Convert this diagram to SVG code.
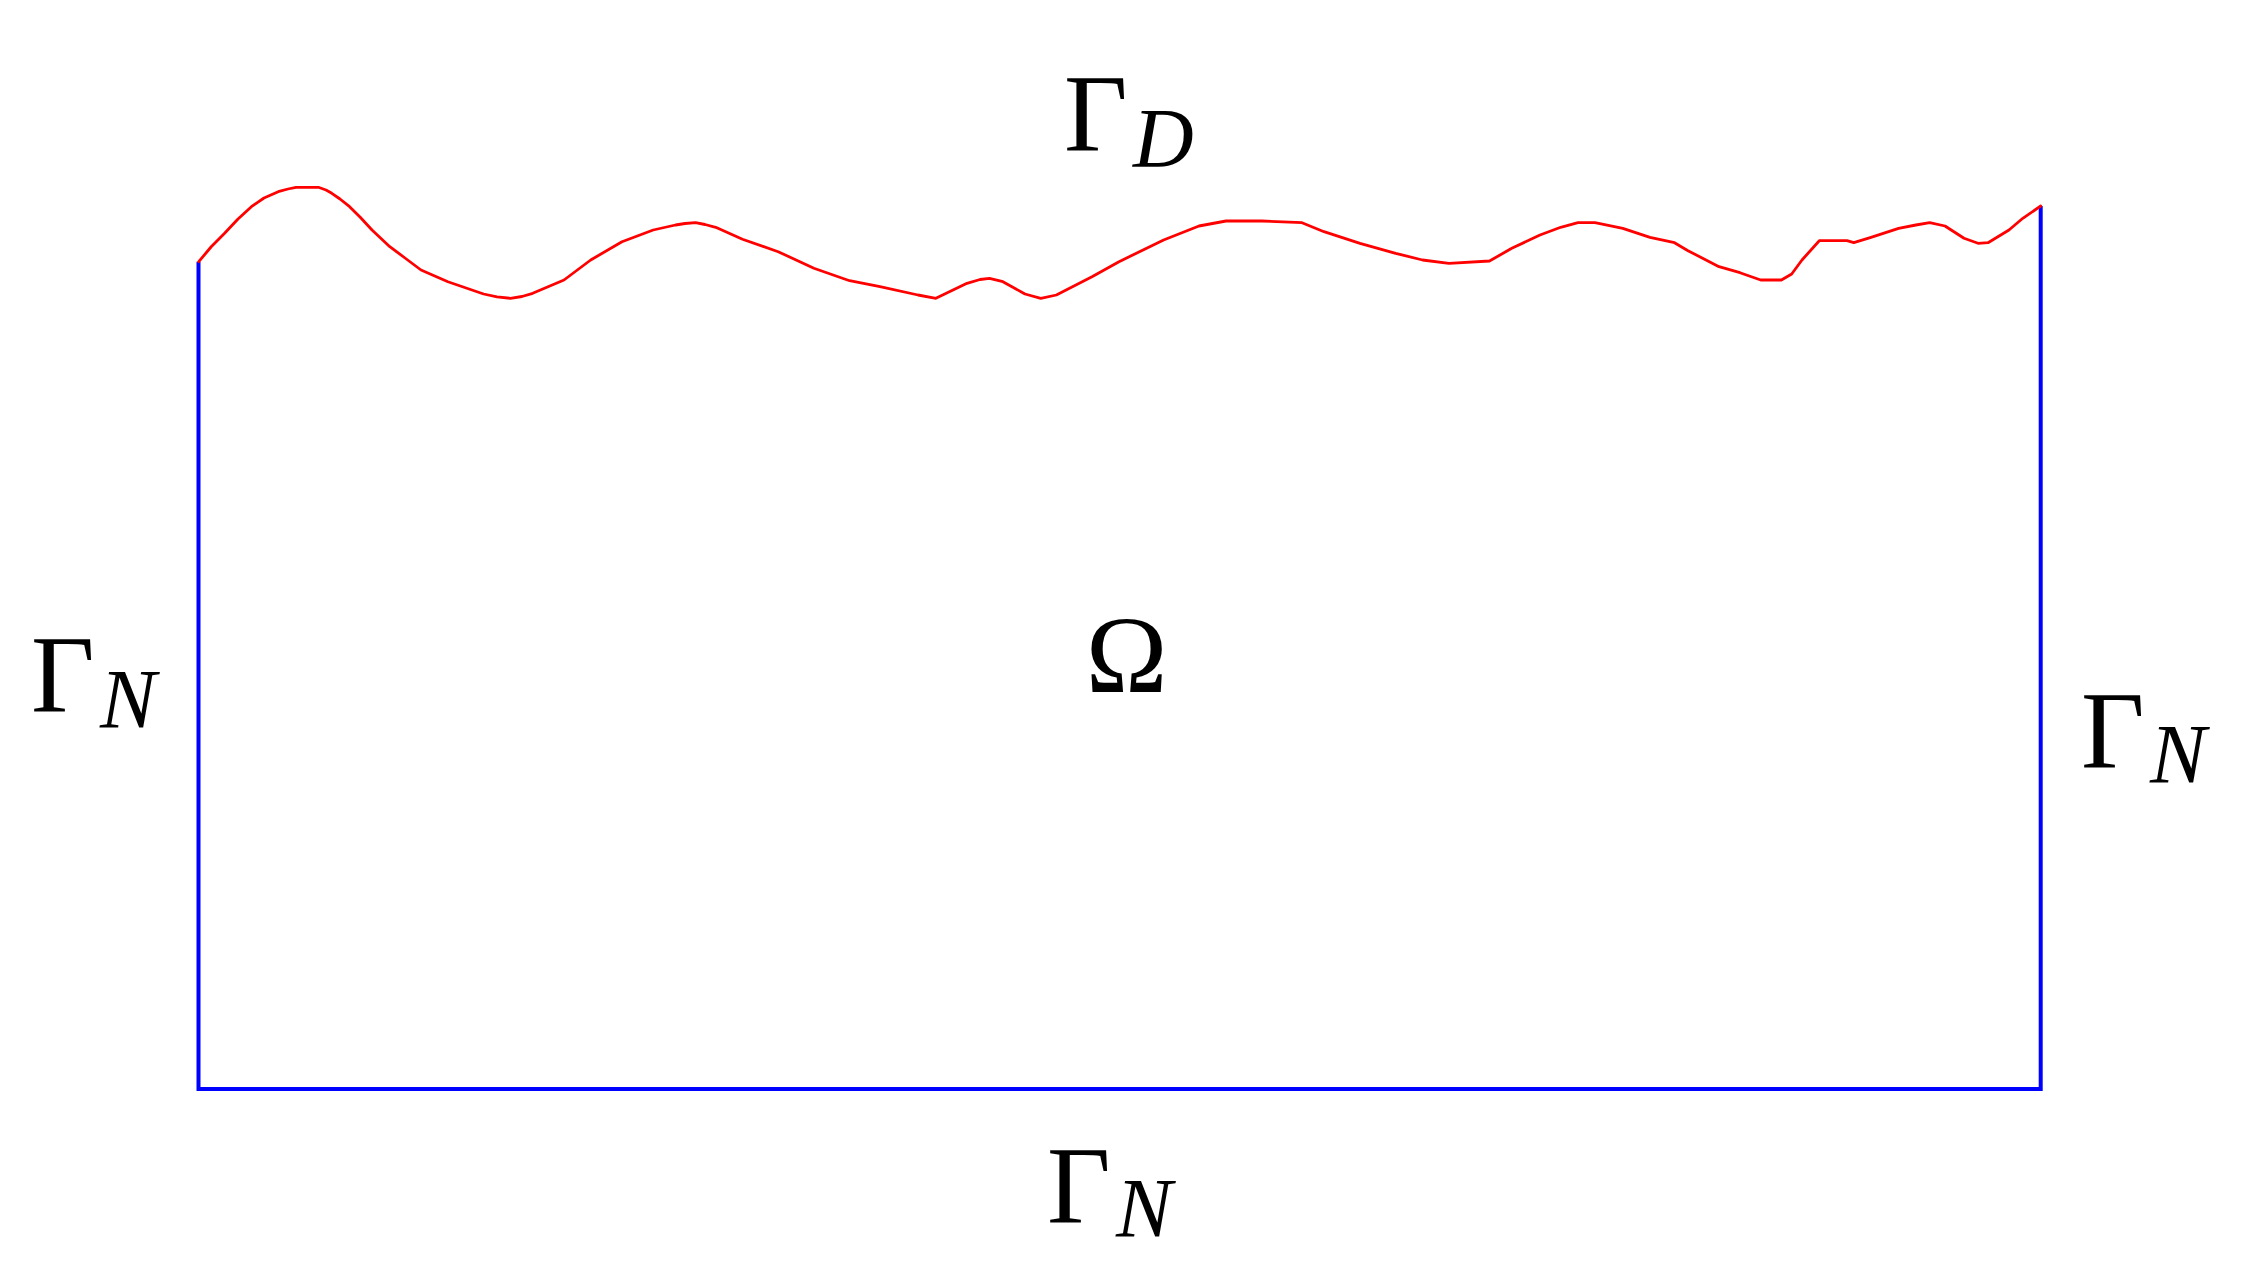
<svg xmlns="http://www.w3.org/2000/svg" width="2258" height="1276" viewBox="0 0 2258 1276">
<style>
.bnd{fill:none;stroke:#0000ff;stroke-width:4;stroke-linejoin:miter}
.dir{fill:none;stroke:#ff0000;stroke-width:2.8;stroke-linejoin:round;stroke-linecap:round}
.g{font-family:"Liberation Serif","DejaVu Serif",serif;font-size:110px;fill:#000}
.s{font-family:"Liberation Serif","DejaVu Serif",serif;font-size:84px;font-style:italic;fill:#000}
</style>
<rect width="2258" height="1276" fill="#ffffff"/>
<g id="connectors">
<polyline class="bnd" points="198.5,261.7 198.5,1089 2040.7,1089 2040.7,206"/>
<polyline class="dir" points="198.75,261.7 211,247 224.6,233.3 238,219 251.4,206.7 264,198 278.2,191.7 288,189 296,187.3 318.4,187.3 326,190 331.8,193.3 340,199 349.6,206.7 360,217 372,230 389.8,246.7 405,258 421,270 447.9,281.7 483.6,294 497,296.8 510.4,298.3 522,296.5 532.7,293.3 564,280 590.7,260 622,241.7 653.2,230 675.5,225 685,223.5 695.6,222.7 705,224.5 715.7,227.3 742.5,239.3 778.2,251.7 813.9,268.3 849.6,280.7 880,286.7 918,295 935.9,298.3 967,283.3 980,279.5 989.5,278.3 1002.9,281.7 1025,294 1040.8,298.3 1056.4,295 1092,276.7 1119,261.7 1163.6,240 1199,226 1226,221 1261.8,221 1302,222.7 1324,231.7 1360,243.3 1395.7,253.3 1422.5,260 1449,263.3 1489.5,261 1511.8,248.3 1540,235 1560.7,227.3 1578,222.7 1595,222.7 1622.8,228.3 1650,237.3 1674.5,242.7 1688,250.7 1719,266.7 1740,272.7 1760.7,280 1781.4,280 1791.7,274 1802,260 1819.3,240.7 1847,240.7 1853.8,242.7 1871,237.3 1898.6,228.3 1915.9,225 1929.7,222.7 1945,226 1964,238.3 1978,243.3 1988,242.7 2009,230 2022.8,218.3 2040.7,206"/>
</g>
<g id="label-gamma-d"><text class="g" x="1064" y="151">Γ</text><text class="s" x="1133" y="167">D</text></g>
<g id="label-gamma-n-left"><text class="g" x="31" y="712">Γ</text><text class="s" x="100" y="728">N</text></g>
<g id="label-gamma-n-right"><text class="g" x="2081" y="768">Γ</text><text class="s" x="2150" y="783">N</text></g>
<g id="label-gamma-n-bottom"><text class="g" x="1047" y="1223">Γ</text><text class="s" x="1116" y="1237">N</text></g>
<g id="label-omega"><text class="g" x="1126.5" y="692" text-anchor="middle">Ω</text></g>
</svg>
